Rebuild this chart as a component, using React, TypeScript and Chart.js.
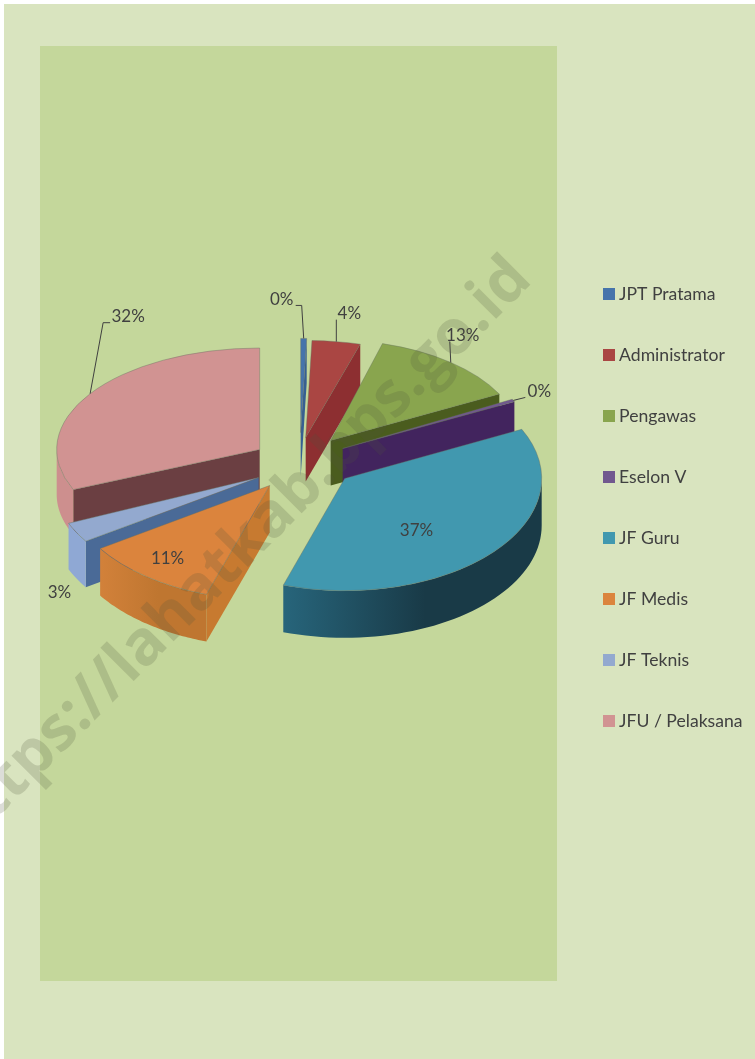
import React, { useEffect, useRef } from "react";
import { Chart, registerables } from "chart.js";

Chart.register(...registerables);

const categories = ["JPT Pratama", "Administrator", "Pengawas", "Eselon V", "JF Guru", "JF Medis", "JF Teknis", "JFU / Pelaksana"];
const shares = [0.5, 3.9, 13, 0.4, 37.3, 10.7, 2.8, 31.5];
const percentLabels = ["0%", "4%", "13%", "0%", "37%", "11%", "3%", "32%"];
const topColors = ["#4674ab", "#aa4643", "#89a54e", "#71588f", "#4198af", "#db843d", "#93a9cf", "#d19392"];

// Presentation of the 3D projection, per slice
const BASE_RADIUS = 207;
const LIFT = -46;
const sliceShift = [[-3, -29], [2, -24], [27, -21], [39, -13], [41, 17], [-34, 24], [-45, 16], [-44, -12]];
const sliceRadius = [192, 200, 190, 191, 197, 203, 207, 203];
const sliceTilt = [0.49, 0.485, 0.53, 0.56, 0.57, 0.565, 0.56, 0.5];
const sliceDepth = [44, 44, 45, 45, 47, 47, 46, 45];
const cutColors = ["#365f92", "#8d2f31", "#4a5c1e", "#42245e", "#1f5264", "#c77a30", "#4a6a97", "#6b3f42"];
const rimFrom = ["#365f92", "#8d2f31", "#4a5c1e", "#42245e", "#27657b", "#d2813a", "#8fa8d4", "#cd8f8e"];
const rimTo = ["#365f92", "#8d2f31", "#4a5c1e", "#42245e", "#193a47", "#bf7630", "#8fa8d4", "#cd8f8e"];
// label placement relative to a point of the slice at mid-angle
const labelOffsets: [number, number][] = [[-22, -39], [13, -28], [12, -27], [26, -9], [2, 17], [-38, 26], [-17, 60], [38, -77]];
const labelFraction = [1, 1, 1, 1, 0.47, 0.52, 1, 1];
const leaderKinds = ["elbow", "straight", "straight", "short", "", "", "", "elbow"];

function project(arc: any, i: number, angle: number, r: number, drop = 0): [number, number] {
  return [
    arc.x + sliceShift[i][0] + Math.cos(angle) * r,
    arc.y + LIFT + sliceShift[i][1] + Math.sin(angle) * r * sliceTilt[i] + drop,
  ];
}

const pie3d = {
  id: "pie3d",
  beforeDraw(chart: any) {
    const { ctx, width, height } = chart;
    ctx.save();
    ctx.fillStyle = "#ffffff";
    ctx.fillRect(0, 0, width, height);
    ctx.fillStyle = "#d9e4bf";
    ctx.fillRect(4, 4, width - 4, height - 4);
    ctx.fillStyle = "#c4d79b";
    ctx.fillRect(40, 46, 517, 935);
    ctx.restore();
  },
  beforeDatasetsDraw(chart: any) {
    const { ctx } = chart;
    const arcs: any[] = chart.getDatasetMeta(0).data;
    const mid = (a: any) => (a.startAngle + a.endAngle) / 2;
    const order = arcs.map((_, i) => i).sort((a, b) => Math.sin(mid(arcs[a])) - Math.sin(mid(arcs[b])));
    for (const i of order) {
      const arc = arcs[i];
      const r = sliceRadius[i];
      const d = sliceDepth[i];
      const a0 = arc.startAngle;
      const a1 = arc.endAngle;
      const cut = (angle: number) => {
        const p = project(arc, i, angle, 0);
        const q = project(arc, i, angle, r);
        ctx.beginPath();
        ctx.moveTo(p[0], p[1]);
        ctx.lineTo(q[0], q[1]);
        ctx.lineTo(q[0], q[1] + d);
        ctx.lineTo(p[0], p[1] + d);
        ctx.closePath();
        ctx.fillStyle = cutColors[i];
        ctx.fill();
      };
      if (Math.sin(a0 - Math.PI / 2) > 0) cut(a0);
      if (Math.sin(a1 + Math.PI / 2) > 0) cut(a1);
      // the part of the rim that faces the viewer
      const rimStart = Math.max(a0, 0);
      const rimEnd = Math.min(a1, Math.PI);
      if (rimEnd > rimStart) {
        const steps = 48;
        const g0 = project(arc, i, rimEnd, r);
        const g1 = project(arc, i, rimStart, r);
        const grad = ctx.createLinearGradient(g0[0], 0, g1[0] + 0.01, 0);
        grad.addColorStop(0, rimFrom[i]);
        grad.addColorStop(0.55, rimTo[i]);
        grad.addColorStop(1, rimTo[i]);
        ctx.beginPath();
        for (let s = 0; s <= steps; s++) {
          const p = project(arc, i, rimStart + ((rimEnd - rimStart) * s) / steps, r);
          if (s === 0) ctx.moveTo(p[0], p[1]);
          else ctx.lineTo(p[0], p[1]);
        }
        for (let s = steps; s >= 0; s--) {
          const p = project(arc, i, rimStart + ((rimEnd - rimStart) * s) / steps, r, d);
          ctx.lineTo(p[0], p[1]);
        }
        ctx.closePath();
        ctx.fillStyle = grad;
        ctx.fill();
      }
      // top face, drawn by the library's own arc element
      ctx.save();
      const scale = r / arc.outerRadius;
      ctx.translate(arc.x + sliceShift[i][0], arc.y + LIFT + sliceShift[i][1]);
      ctx.scale(scale, scale * sliceTilt[i]);
      ctx.translate(-arc.x, -arc.y);
      arc.draw(ctx);
      ctx.restore();
    }
    return false;
  },
  afterDraw(chart: any) {
    const { ctx } = chart;
    const arcs: any[] = chart.getDatasetMeta(0).data;
    ctx.save();
    ctx.font = "17px Lato";
    ctx.fillStyle = "#404040";
    ctx.strokeStyle = "#404040";
    ctx.lineWidth = 1;
    ctx.textAlign = "center";
    ctx.textBaseline = "middle";
    arcs.forEach((arc, i) => {
      const m = (arc.startAngle + arc.endAngle) / 2;
      const anchor = project(arc, i, m, sliceRadius[i] * labelFraction[i]);
      const pos = [anchor[0] + labelOffsets[i][0], anchor[1] + labelOffsets[i][1]];
      const kind = leaderKinds[i];
      if (kind) {
        ctx.beginPath();
        if (kind === "elbow") {
          const side = labelOffsets[i][0] < 0 ? -1 : 1;
          const y = pos[1] + 6;
          ctx.moveTo(pos[0] - side * (i === 0 ? 14 : 18), y);
          ctx.lineTo(pos[0] - side * (i === 0 ? 20 : 25), y);
          ctx.lineTo(anchor[0], anchor[1]);
        } else if (kind === "straight") {
          ctx.moveTo(pos[0] - 13, pos[1] + 6);
          ctx.lineTo(anchor[0], anchor[1]);
        } else {
          ctx.moveTo(pos[0] - 14, pos[1] + 6);
          ctx.lineTo(anchor[0], anchor[1]);
        }
        ctx.stroke();
      }
      ctx.fillText(percentLabels[i], pos[0], pos[1]);
    });
    // watermark
    ctx.translate(237, 553);
    ctx.rotate((-45 * Math.PI) / 180);
    ctx.font = "bold 62px 'Open Sans'";
    ctx.fillStyle = "rgba(80,85,60,0.2)";
    ctx.fillText("https://lahatkab.bps.go.id", 0, 0);
    ctx.restore();
  },
};

function swatch(color: string) {
  const c = document.createElement("canvas");
  c.width = 12;
  c.height = 12;
  const g = c.getContext("2d")!;
  g.fillStyle = color;
  g.fillRect(0, 0, 12, 12);
  return c;
}

export default function App() {
  const ref = useRef<HTMLCanvasElement>(null);
  useEffect(() => {
    const chart = new Chart(ref.current!, {
      type: "pie",
      data: {
        labels: categories,
        datasets: [
          {
            data: shares,
            backgroundColor: topColors,
            borderColor: "rgba(100,110,95,0.55)",
            borderWidth: 1,
            radius: BASE_RADIUS,
          },
        ],
      },
      options: {
        responsive: false,
        animation: false,
        layout: { padding: { left: 43.5, right: 2.5, top: 0, bottom: 44 } },
        plugins: {
          tooltip: { enabled: false },
          legend: {
            position: "right",
            align: "center",
            labels: {
              usePointStyle: true,
              pointStyleWidth: 3,
              padding: 43.4,
              color: "#404040",
              font: { family: "Lato", size: 17.6 },
              generateLabels: (c: any) =>
                (Chart as any).overrides.doughnut.plugins.legend.labels
                  .generateLabels(c)
                  .map((l: any, i: number) => ({ ...l, lineWidth: 0, pointStyle: swatch(topColors[i]) })),
            },
          },
        },
      },
      plugins: [pie3d],
    } as any);
    return () => chart.destroy();
  }, []);
  return (
    <canvas
      ref={ref}
      width={755}
      height={1059}
      style={{ position: "fixed", left: 0, top: 0, display: "block", width: 755, height: 1059 }}
    />
  );
}
